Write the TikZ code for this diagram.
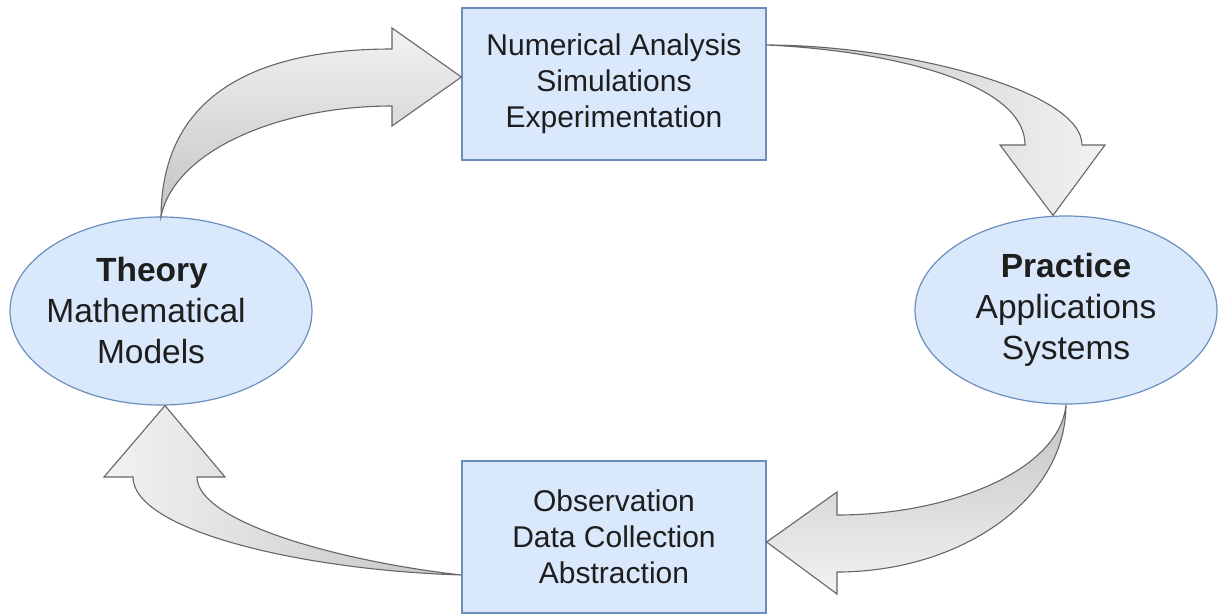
\documentclass[tikz,border=0pt]{standalone}
\usepackage{fontspec}
\setmainfont{Liberation Sans}
\usetikzlibrary{calc,shapes.geometric}
\definecolor{boxfill}{HTML}{DAE8FC}
\definecolor{boxline}{HTML}{6C8EBF}
\definecolor{arrline}{HTML}{666666}
\definecolor{arrlight}{HTML}{F2F2F2}
\definecolor{arrdark}{HTML}{C4C4C4}
\definecolor{txt}{HTML}{1E1E1E}
\tikzset{
  stage/.style={draw=boxline, fill=boxfill, line width=1.2pt, text=txt,
    minimum width=304pt, minimum height=152pt, inner sep=0pt, align=center,
    font=\fontsize{30}{36}\selectfont},
  pole/.style={draw=boxline, fill=boxfill, line width=1.2pt, text=txt,
    ellipse, minimum width=302pt, minimum height=188pt, inner sep=0pt, align=center,
    font=\fontsize{33.5}{41}\selectfont},
  blockarrow/.style={draw=arrline, line width=1.1pt, line join=miter}
}
% a line set a little left of centre, without widening its node
\newcommand{\leftish}[2]{\makebox[0pt][c]{#1\rule{#2}{0pt}}}
\begin{document}
\begin{tikzpicture}[x=1pt, y=-1pt]
\useasboundingbox (0,0) rectangle (1219,614);

% cycle stations
\node[pole] (theory) at (161,311)
  {\leftish{\textbf{Theory}}{18pt}\\\leftish{Mathematical}{30pt}\\\leftish{Models}{20pt}};
\node[pole] (practice) at (1066,310) {\textbf{Practice}\\Applications\\Systems};
\node[stage] (numeric) at (614,84) {Numerical Analysis\\Simulations\\Experimentation};
\node[stage] (observe) at (614,537) {Observation\\Data Collection\\Abstraction};

% tails and tips of the curved block arrows
\coordinate (t1) at (theory.north);
\coordinate (h1) at ($(numeric.west)+(0,-7)$);
\coordinate (t2) at ($(numeric.east)+(0,-39)$);
\coordinate (h2) at ($(practice.north)+(-13,0)$);
\coordinate (t3) at (practice.south);
\coordinate (h3) at ($(observe.east)+(0,5)$);
\coordinate (t4) at ($(observe.west)+(0,38)$);
\coordinate (h4) at ($(theory.south)+(4,0)$);

% theory -> numerical analysis
\draw[blockarrow, top color=arrlight, bottom color=arrdark]
  (t1) .. controls (162,92) and (260,49) .. (392,49) -- (392,28) -- (h1)
  -- (392,126) -- (392,106) .. controls (280,106) and (175,150) .. (t1) -- cycle;

% numerical analysis -> practice
\draw[blockarrow, left color=arrdark, right color=arrlight]
  (t2) .. controls (900,45) and (1082,90) .. (1082,145) -- (1105,145) -- (h2)
  -- (1000,145) -- (1025,145) .. controls (1025,80) and (880,50) .. (t2) -- cycle;

% practice -> observation
\draw[blockarrow, top color=arrdark, bottom color=arrlight]
  (t3) .. controls (1066,500) and (960,572) .. (837,572) -- (837,594) -- (h3)
  -- (837,492) -- (837,515) .. controls (950,515) and (1060,470) .. (t3) -- cycle;

% observation -> theory
\draw[blockarrow, left color=arrlight, right color=arrdark]
  (t4) .. controls (300,570) and (133,530) .. (133,477) -- (104,477) -- (h4)
  -- (225,477) -- (197,477) .. controls (197,520) and (330,560) .. (t4) -- cycle;
\end{tikzpicture}
\end{document}
